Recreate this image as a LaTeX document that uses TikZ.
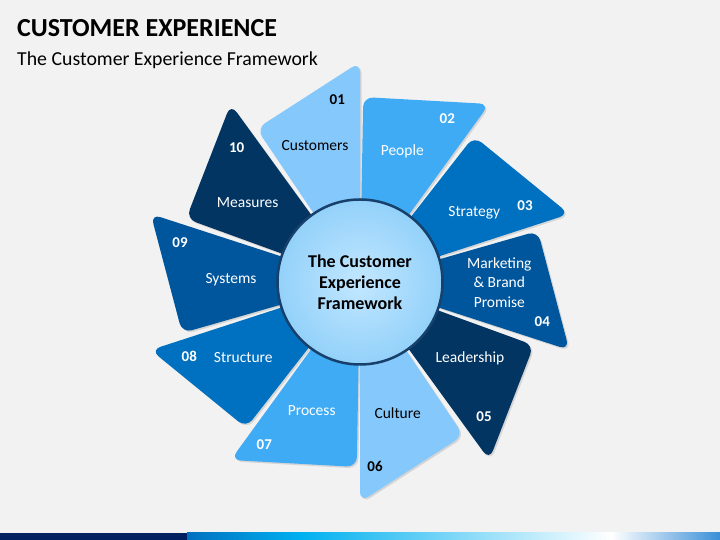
\documentclass[tikz,border=0pt]{standalone}
\usepackage{fontspec}
\setmainfont{Carlito}
\usetikzlibrary{shadows}
\definecolor{bg}{HTML}{F2F2F2}
\definecolor{bladeA}{HTML}{85C8FC}
\definecolor{bladeB}{HTML}{40ABF5}
\definecolor{bladeC}{HTML}{0070C0}
\definecolor{bladeD}{HTML}{00569C}
\definecolor{bladeE}{HTML}{033562}
\definecolor{hubline}{HTML}{17406A}
\definecolor{hubin}{HTML}{C2E7FF}
\definecolor{hubout}{HTML}{93D1FA}
\definecolor{barnavy}{HTML}{002060}
\definecolor{barblue}{HTML}{0070C0}
\definecolor{barcyan}{HTML}{00B0F0}
\definecolor{barend}{HTML}{3A8FD8}
\tikzstyle{blade} = [rounded corners=10pt, drop shadow={shadow xshift=1.5pt, shadow yshift=-1.5pt, opacity=0.25}]
\tikzstyle{bladetext} = [font=\fontsize{15.5}{19.5}\selectfont, text=white, align=center]
\tikzstyle{bladenum} = [font=\fontsize{15}{18}\selectfont\bfseries, text=white]
\tikzstyle{hubstate} = [circle, minimum size=165pt, draw=hubline, line width=2.5pt, inner color=hubin, outer color=hubout, align=center, font=\fontsize{18}{21}\selectfont\bfseries]

\begin{document}
\begin{tikzpicture}[x=1pt,y=1pt]
    \fill[bg] (0,0) rectangle (720,540);
    \useasboundingbox (0,0) rectangle (720,540);
    \node[anchor=base west, inner sep=0pt, font=\fontsize{26}{30}\selectfont\bfseries](title) at (17,503.5) {CUSTOMER EXPERIENCE};
    \node[anchor=base west, inner sep=0pt, font=\fontsize{19.8}{24}\selectfont](subtitle) at (17,474.7) {The Customer Experience Framework};
    \coordinate (o) at (360,258);
    \begin{scope}[shift={(o)}]
        \fill[bladeA, blade] (0,0) -- (90:220) -- (124:185) -- cycle;
        \fill[bladeB, blade] (0,0) -- (54:220) -- (89:185) -- cycle;
        \fill[bladeC, blade] (0,0) -- (18:220) -- (52:185) -- cycle;
        \fill[bladeD, blade] (0,0) -- (-18:220) -- (16:185) -- cycle;
        \fill[bladeE, blade] (0,0) -- (-54:220) -- (-20:185) -- cycle;
        \fill[bladeA, blade] (0,0) -- (-90:220) -- (-56:185) -- cycle;
        \fill[bladeB, blade] (0,0) -- (-126:220) -- (-91:185) -- cycle;
        \fill[bladeC, blade] (0,0) -- (-162:220) -- (-128:185) -- cycle;
        \fill[bladeD, blade] (0,0) -- (162:220) -- (196:185) -- cycle;
        \fill[bladeE, blade] (0,0) -- (126:220) -- (160:185) -- cycle;
    \end{scope}
    \node[hubstate](hub) at (o) {The Customer\\Experience\\Framework};
    \node[bladenum, text=black](n01) at (337.3,440.7) {01};
    \node[bladetext, text=black](t01) at (315,394.3) {Customers};
    \node[bladenum](n02) at (447.3,421) {02};
    \node[bladetext](t02) at (402.3,389) {People};
    \node[bladenum](n03) at (525,334.3) {03};
    \node[bladetext](t03) at (474.3,327) {Strategy};
    \node[bladetext](t04) at (499.3,257.7) {Marketing\\\& Brand\\Promise};
    \node[bladenum](n04) at (542.3,218.3) {04};
    \node[bladetext](t05) at (470,181.5) {Leadership};
    \node[bladenum](n05) at (484,123.3) {05};
    \node[bladetext, text=black](t06) at (397.7,126.7) {Culture};
    \node[bladenum, text=black](n06) at (375,74) {06};
    \node[bladetext](t07) at (311.7,129.3) {Process};
    \node[bladenum](n07) at (264.3,95.7) {07};
    \node[bladetext](t08) at (243.3,182.7) {Structure};
    \node[bladenum](n08) at (189.3,183.3) {08};
    \node[bladetext](t09) at (231,260.7) {Systems};
    \node[bladenum](n09) at (180,297) {09};
    \node[bladetext](t10) at (247.7,337.3) {Measures};
    \node[bladenum](n10) at (236.7,392.7) {10};
    \fill[barnavy] (0,0) rectangle (187,7);
    \shade[left color=barblue, right color=barcyan] (187,0) rectangle (300,7);
    \shade[left color=barcyan, right color=white] (300,0) rectangle (611,7);
    \shade[left color=white, right color=barend] (611,0) rectangle (720,7);
\end{tikzpicture}
\end{document}
